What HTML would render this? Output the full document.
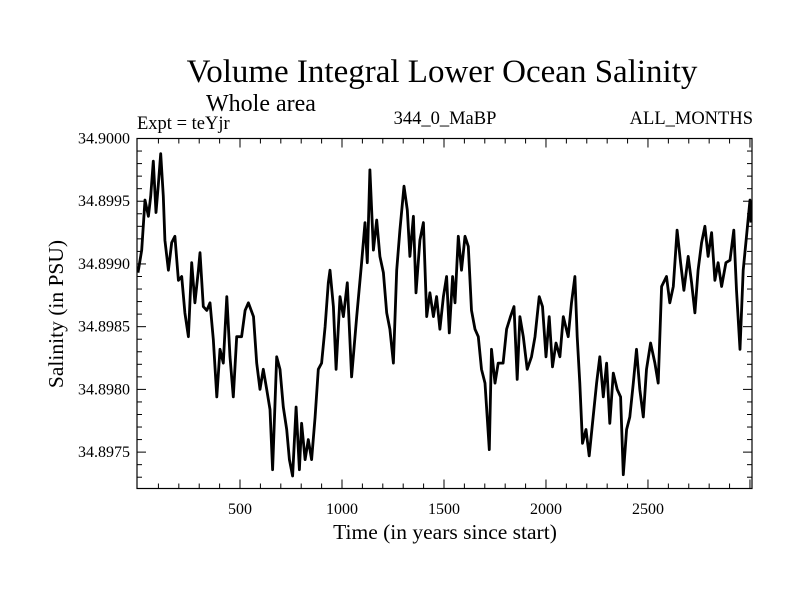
<!DOCTYPE html>
<html><head><meta charset="utf-8"><style>
html,body{margin:0;padding:0;background:#fff;}
svg{display:block;font-family:"Liberation Serif",serif;}
</style></head><body>
<svg id="chart" width="800" height="600">
<text x="442" y="82" font-size="33" text-anchor="middle">Volume Integral Lower Ocean Salinity</text>
<text x="206" y="111" font-size="24">Whole area</text>
<text x="137" y="129" font-size="18.5">Expt = teYjr</text>
<text x="445" y="124" font-size="18.5" text-anchor="middle">344_0_MaBP</text>
<text x="753" y="124" font-size="18.5" text-anchor="end">ALL_MONTHS</text>
<text x="445" y="539" font-size="21.5" text-anchor="middle">Time (in years since start)</text>
<text transform="translate(63,314) rotate(-90)" font-size="21.5" text-anchor="middle">Salinity (in PSU)</text>
<g id="axes"></g>
<path id="series" fill="none" stroke="#000" stroke-width="2.8" stroke-linejoin="round"></path>
<rect x="137" y="138.5" width="615" height="350" fill="none" stroke="#000" stroke-width="1.2"></rect>
</svg>
<script>
const years = [0,18,34,51,62,75,88,100,111,124,132,149,165,181,198,214,230,247,263,279,296,304,320,337,353,369,386,402,418,435,451,467,484,508,525,541,566,582,598,614,631,647,660,680,696,712,729,742,758,775,791,802,819,835,851,868,884,900,917,933,941,958,971,990,1007,1026,1047,1072,1096,1113,1124,1137,1154,1170,1186,1203,1219,1235,1252,1268,1284,1304,1320,1333,1350,1363,1382,1399,1415,1431,1448,1464,1480,1497,1513,1526,1542,1554,1570,1586,1603,1619,1635,1652,1668,1684,1701,1712,1722,1733,1750,1766,1790,1807,1826,1843,1859,1872,1889,1908,1929,1946,1967,1983,2000,2016,2032,2049,2068,2085,2109,2125,2142,2153,2166,2179,2196,2212,2228,2248,2264,2281,2297,2313,2330,2349,2366,2379,2395,2411,2428,2444,2460,2477,2493,2513,2534,2550,2567,2591,2607,2624,2643,2660,2676,2697,2714,2730,2746,2763,2779,2795,2812,2828,2844,2861,2882,2902,2921,2934,2951,2967,2983,3000,3005];
const salinity = [34.89893,34.89911,34.89951,34.89938,34.89954,34.89982,34.89941,34.89964,34.89988,34.89954,34.89919,34.89895,34.89917,34.89922,34.89887,34.89890,34.89861,34.89842,34.89901,34.89869,34.89895,34.89909,34.89866,34.89863,34.89869,34.89840,34.89794,34.89832,34.89821,34.89874,34.89826,34.89794,34.89842,34.89842,34.89863,34.89869,34.89858,34.89821,34.89800,34.89816,34.89800,34.89784,34.89736,34.89826,34.89816,34.89786,34.89768,34.89744,34.89731,34.89786,34.89736,34.89773,34.89744,34.89760,34.89744,34.89778,34.89816,34.89821,34.89850,34.89885,34.89895,34.89866,34.89816,34.89874,34.89858,34.89885,34.89810,34.89858,34.89901,34.89933,34.89901,34.89975,34.89911,34.89935,34.89906,34.89893,34.89861,34.89848,34.89821,34.89895,34.89927,34.89962,34.89943,34.89906,34.89938,34.89877,34.89919,34.89933,34.89858,34.89877,34.89858,34.89874,34.89848,34.89874,34.89890,34.89845,34.89890,34.89869,34.89922,34.89895,34.89922,34.89914,34.89863,34.89848,34.89842,34.89816,34.89805,34.89778,34.89752,34.89832,34.89805,34.89821,34.89821,34.89848,34.89858,34.89866,34.89808,34.89858,34.89842,34.89816,34.89826,34.89842,34.89874,34.89866,34.89826,34.89858,34.89818,34.89837,34.89826,34.89858,34.89842,34.89869,34.89890,34.89842,34.89805,34.89757,34.89768,34.89747,34.89773,34.89805,34.89826,34.89794,34.89821,34.89773,34.89813,34.89800,34.89794,34.89732,34.89768,34.89778,34.89805,34.89832,34.89800,34.89778,34.89816,34.89837,34.89821,34.89805,34.89882,34.89890,34.89869,34.89882,34.89927,34.89901,34.89879,34.89906,34.89885,34.89861,34.89895,34.89917,34.89930,34.89906,34.89925,34.89887,34.89901,34.89882,34.89901,34.89903,34.89927,34.89879,34.89832,34.89895,34.89922,34.89951,34.89933];
const xTickValues = [500,1000,1500,2000,2500];
const xTickLabels = ["500","1000","1500","2000","2500"];
const yTickValues = [34.8975,34.8980,34.8985,34.8990,34.8995,34.9000];
const yTickLabels = ["34.8975","34.8980","34.8985","34.8990","34.8995","34.9000"];

const L=137,R=752,T=138.5,B=488.5;
const xMin=-5,xMax=3010,yMin=34.89721,yMax=34.9000;
const sx=v=>L+(v-xMin)/(xMax-xMin)*(R-L);
const sy=v=>B-(v-yMin)/(yMax-yMin)*(B-T);
const NS="http://www.w3.org/2000/svg";
const axes=document.getElementById('axes');
function line(x1,y1,x2,y2,name){
  const l=document.createElementNS(NS,'line');
  l.setAttribute('x1',x1);l.setAttribute('y1',y1);l.setAttribute('x2',x2);l.setAttribute('y2',y2);
  l.setAttribute('stroke','#000');l.setAttribute('stroke-width','1');
  
  
  axes.appendChild(l);
}
function text(x,y,s,anchor,name){
  const t=document.createElementNS(NS,'text');
  t.setAttribute('x',x);t.setAttribute('y',y);t.setAttribute('font-size','16');
  t.setAttribute('text-anchor',anchor);t.textContent=s;
  
  
  axes.appendChild(t);
}
for(let v=100;v<3010;v+=100){
  const x=sx(v),len=(v%500===0)?9:5;
  line(x,B,x,B-len,'x-tick');line(x,T,x,T+len,'x-tick-top');
}
xTickValues.forEach((v,i)=>text(sx(v),514,xTickLabels[i],'middle','x-tick-label'));
for(let k=0;k<=27;k++){
  const v=34.9000-k*0.0001; if(v<yMin) break;
  const y=sy(v),len=(k%5===0)?9:5;
  line(L,y,L+len,y,'y-tick');line(R,y,R-len,y,'y-tick-right');
}
yTickValues.forEach((v,i)=>text(130,sy(v)+5,yTickLabels[i],'end','y-tick-label'));
let d='';
years.forEach((yr,i)=>{d+=(i?'L':'M')+sx(yr).toFixed(1)+','+sy(salinity[i]).toFixed(1);});
document.getElementById('series').setAttribute('d',d);
</script>
</body></html>
